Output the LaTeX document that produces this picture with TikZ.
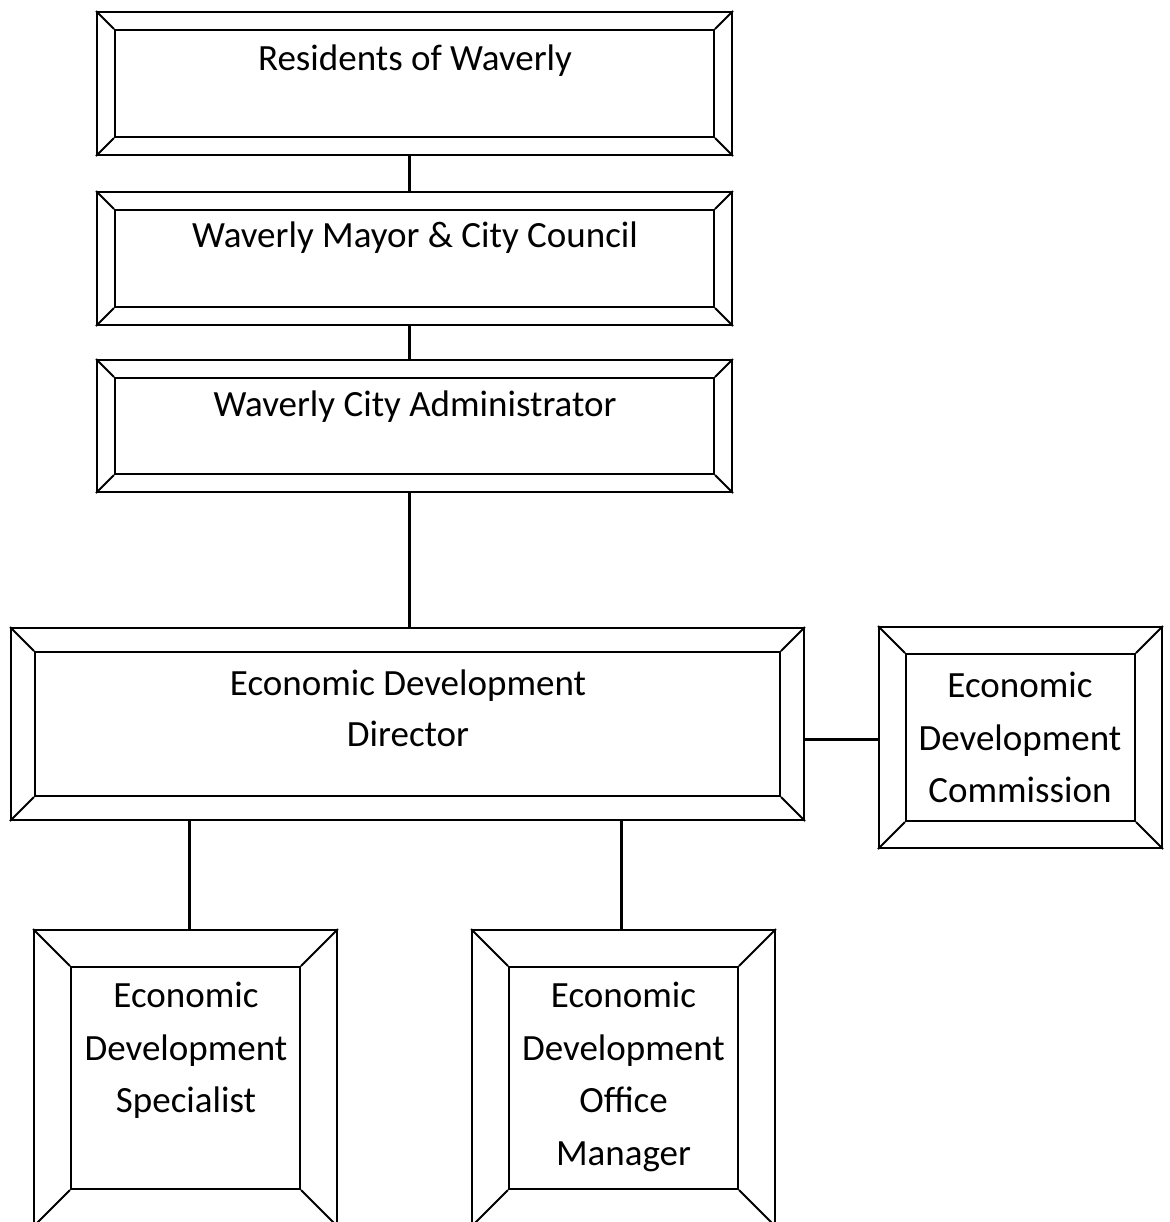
\documentclass[tikz,border=0pt]{standalone}
\usepackage{fontspec}
\setmainfont{Carlito}
\usetikzlibrary{fit}
\tikzset{
  frame/.style={draw=black, line width=1pt, inner sep=0pt},
  bevelline/.style={draw=black, line width=1pt},
  conn/.style={draw=black, line width=1.5pt},
  lbl/.style={anchor=base, inner sep=0pt, font=\fontsize{18.5}{26}\selectfont}
}
% #1 name, #2 x1, #3 y1, #4 x2, #5 y2, #6 bevel
\newcommand\bevelbox[6]{%
  \coordinate (#1-a) at (#2,#3);
  \coordinate (#1-b) at (#4,#5);
  \coordinate (#1-c) at ({#2+#6},{#3+#6});
  \coordinate (#1-d) at ({#4-#6},{#5-#6});
  \node[frame, fit=(#1-a)(#1-b)] (#1) {};
  \node[frame, fit=(#1-c)(#1-d)] (#1i) {};
  \draw[bevelline] (#1.north west) -- (#1i.north west);
  \draw[bevelline] (#1.north east) -- (#1i.north east);
  \draw[bevelline] (#1.south west) -- (#1i.south west);
  \draw[bevelline] (#1.south east) -- (#1i.south east);
}
\begin{document}
\begin{tikzpicture}[x=0.5pt, y=-0.5pt]
\useasboundingbox[fill=white] (0,0) rectangle (1170,1222);

\bevelbox{res}{97}{12}{732}{155}{18}
\bevelbox{may}{97}{192}{732}{325}{18}
\bevelbox{adm}{97}{360}{732}{492}{18}
\bevelbox{dir}{11}{628}{804}{820}{24}
\bevelbox{com}{879}{627}{1162}{848}{27}
\bevelbox{spe}{34}{930}{337}{1226}{37}
\bevelbox{man}{472}{930}{775}{1226}{37}

\node[lbl] (res-t) at (415,70) {Residents of Waverly};
\node[lbl] (may-t) at (415,247) {Waverly Mayor \& City Council};
\node[lbl] (adm-t) at (415,416) {Waverly City Administrator};

\node[lbl] (dir-t1) at (408,695) {Economic Development};
\node[lbl] (dir-t2) at (408,746) {Director};

\node[lbl] (com-t1) at (1020,697) {Economic};
\node[lbl] (com-t2) at (1020,750) {Development};
\node[lbl] (com-t3) at (1020,802) {Commission};

\node[lbl] (spe-t1) at (186,1007) {Economic};
\node[lbl] (spe-t2) at (186,1060) {Development};
\node[lbl] (spe-t3) at (186,1112) {Specialist};

\node[lbl] (man-t1) at (623.5,1007) {Economic};
\node[lbl] (man-t2) at (623.5,1060) {Development};
\node[lbl] (man-t3) at (623.5,1112) {Office};
\node[lbl] (man-t4) at (623.5,1165) {Manager};

\draw[conn] ([xshift=-2.75pt]res.south) -- ([xshift=-2.75pt]may.north);
\draw[conn] ([xshift=-2.75pt]may.south) -- ([xshift=-2.75pt]adm.north);
\draw[conn] ([xshift=-2.75pt]adm.south) -- ([xshift=0.75pt]dir.north);
\draw[conn] ([yshift=-7.5pt]dir.east) -- ([yshift=-7.5pt]dir.east -| com.west);
\draw[conn] ([xshift=-109.25pt]dir.south) -- ([xshift=1.75pt]spe.north);
\draw[conn] ([xshift=106.75pt]dir.south) -- ([xshift=-1.25pt]man.north);
\end{tikzpicture}
\end{document}
